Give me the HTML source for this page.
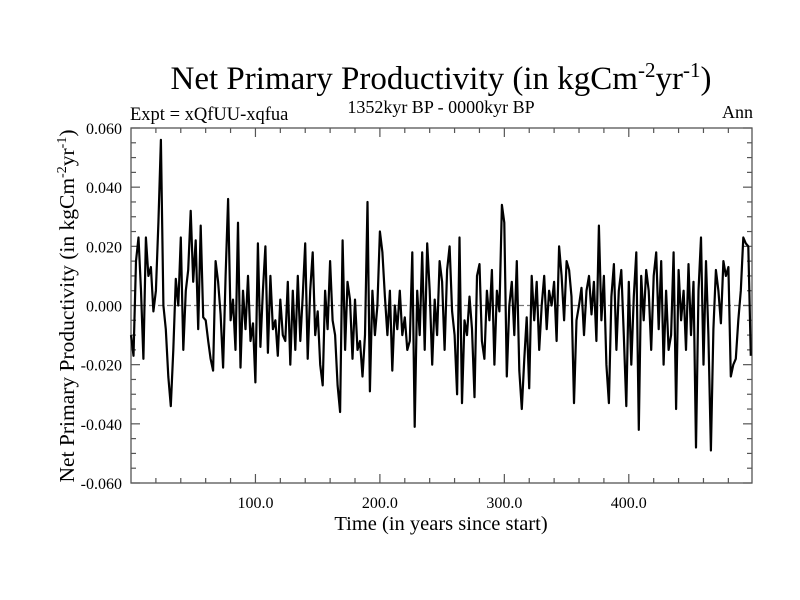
<!DOCTYPE html>
<html><head><meta charset="utf-8"><style>
body{margin:0;background:#fff;}
svg{display:block;font-family:"Liberation Serif",serif;}
</style></head><body>
<svg id="chart" width="800" height="600" xmlns="http://www.w3.org/2000/svg">
<text x="441" y="89" font-size="33" text-anchor="middle">Net Primary Productivity (in kgCm<tspan dy="-12" font-size="21">-2</tspan><tspan dy="12">yr</tspan><tspan dy="-12" font-size="21">-1</tspan><tspan dy="12">)</tspan></text>
<text x="130" y="120" font-size="18.5">Expt = xQfUU-xqfua</text>
<text x="441" y="113" font-size="18" text-anchor="middle">1352kyr BP - 0000kyr BP</text>
<text x="753" y="118" font-size="18" text-anchor="end">Ann</text>
<text transform="translate(74,306) rotate(-90)" font-size="21.5" text-anchor="middle">Net Primary Productivity (in kgCm<tspan dy="-8" font-size="14">-2</tspan><tspan dy="8">yr</tspan><tspan dy="-8" font-size="14">-1</tspan><tspan dy="8">)</tspan></text>
<text x="441" y="530" font-size="20.5" text-anchor="middle">Time (in years since start)</text>
<g id="axes"></g>
<g id="series"></g>
</svg>
<script>
const yTickValues=[0.06,0.04,0.02,0,-0.02,-0.04,-0.06];
const yTickLabels=["0.060","0.040","0.020","0.000","-0.020","-0.040","-0.060"];
const xTickValues=[100,200,300,400];
const xTickLabels=["100.0","200.0","300.0","400.0"];
const years=[];
for(let i=0;i<250;i++)years.push(i*2);
const nppValues=[
-10,-17,15,23,5,-18,23,10,13,-2,
5,28,56,0,-8,-24,-34,-15,9,0,
23,-15,5,12,32,8,22,-8,27,-4,
-5,-12,-18,-22,15,8,-3,-21,10,36,
-5,2,-15,28,-21,5,-8,10,-12,-6,
-26,21,-14,5,20,-16,10,-8,-5,-17,
2,-10,-12,8,-20,5,-15,10,-12,3,
21,-18,5,18,-10,-2,-20,-27,5,-8,
15,-5,-10,-27,-36,22,-15,8,2,-18,
2,-15,-12,-24,-10,35,-29,5,-10,0,
25,18,3,-10,5,-22,0,-8,5,-10,
-4,-15,-12,18,-41,5,-10,18,-15,21,
5,-20,2,-10,15,8,-15,12,20,-2,
-10,-30,23,-33,-5,-10,3,-8,-31,10,
14,-12,-18,5,-5,12,-20,5,-2,34,
28,-24,0,8,-10,15,-22,-35,-18,-4,
-28,10,-5,8,-15,0,10,-8,5,0,
8,-12,20,10,-5,15,12,3,-33,-5,
0,6,-10,5,10,-3,8,-12,27,-5,
10,-20,-33,3,14,-15,5,12,-10,-34,
8,-20,3,18,-42,10,-5,12,5,-15,
10,18,-8,15,-20,5,-15,-10,18,-35,
12,-5,5,-15,14,-10,8,-48,5,23,
-20,15,-10,-49,-8,12,5,-6,15,10,
13,-24,-20,-18,-5,5,23,21,20,-17
];
const L=131,R=752,T=128,B=483,X0=0,X1=499,Y0=-0.06,Y1=0.06;
const xs=v=>L+(v-X0)/(X1-X0)*(R-L);
const ys=v=>B-(v-Y0)/(Y1-Y0)*(B-T);
const NS="http://www.w3.org/2000/svg";
const ax=document.getElementById('axes');
function mk(tag,attrs,parent){const e=document.createElementNS(NS,tag);for(const k in attrs)e.setAttribute(k,attrs[k]);parent.appendChild(e);return e;}
const z=mk('line',{x1:L,x2:R,y1:ys(0),y2:ys(0),stroke:'#777','stroke-width':1.2,'stroke-dasharray':'6,3'},ax);


const fr=mk('rect',{x:L,y:T,width:R-L,height:B-T,fill:'none',stroke:'#555','stroke-width':1.3},ax);


for(let k=0;k<=24;k++){const v=Y0+k*0.005;const y=ys(v);const len=(k%4===0)?9:5;
 mk('line',{x1:L,x2:L+len,y1:y,y2:y,stroke:'#555','stroke-width':1.2},ax);
 mk('line',{x1:R,x2:R-len,y1:y,y2:y,stroke:'#555','stroke-width':1.2},ax);}
for(let x=20;x<X1;x+=20){const px=xs(x);const len=(x%100===0)?9:5;
 mk('line',{x1:px,x2:px,y1:B,y2:B-len,stroke:'#555','stroke-width':1.2},ax);
 mk('line',{x1:px,x2:px,y1:T,y2:T+len,stroke:'#555','stroke-width':1.2},ax);}
yTickValues.forEach((v,i)=>{const t=mk('text',{x:L-9,y:ys(v)+6,'font-size':16,'text-anchor':'end'},ax);t.textContent=yTickLabels[i];
 
 });
xTickValues.forEach((v,i)=>{const t=mk('text',{x:xs(v),y:B+25,'font-size':16,'text-anchor':'middle'},ax);t.textContent=xTickLabels[i];
 
 });
const pts=years.map((yr,i)=>xs(yr).toFixed(1)+','+ys(nppValues[i]/1000).toFixed(1)).join(' ');
const pl=mk('polyline',{points:pts,fill:'none',stroke:'#000','stroke-width':2.2,'stroke-linejoin':'round'},document.getElementById('series'));


</script>
</body></html>
